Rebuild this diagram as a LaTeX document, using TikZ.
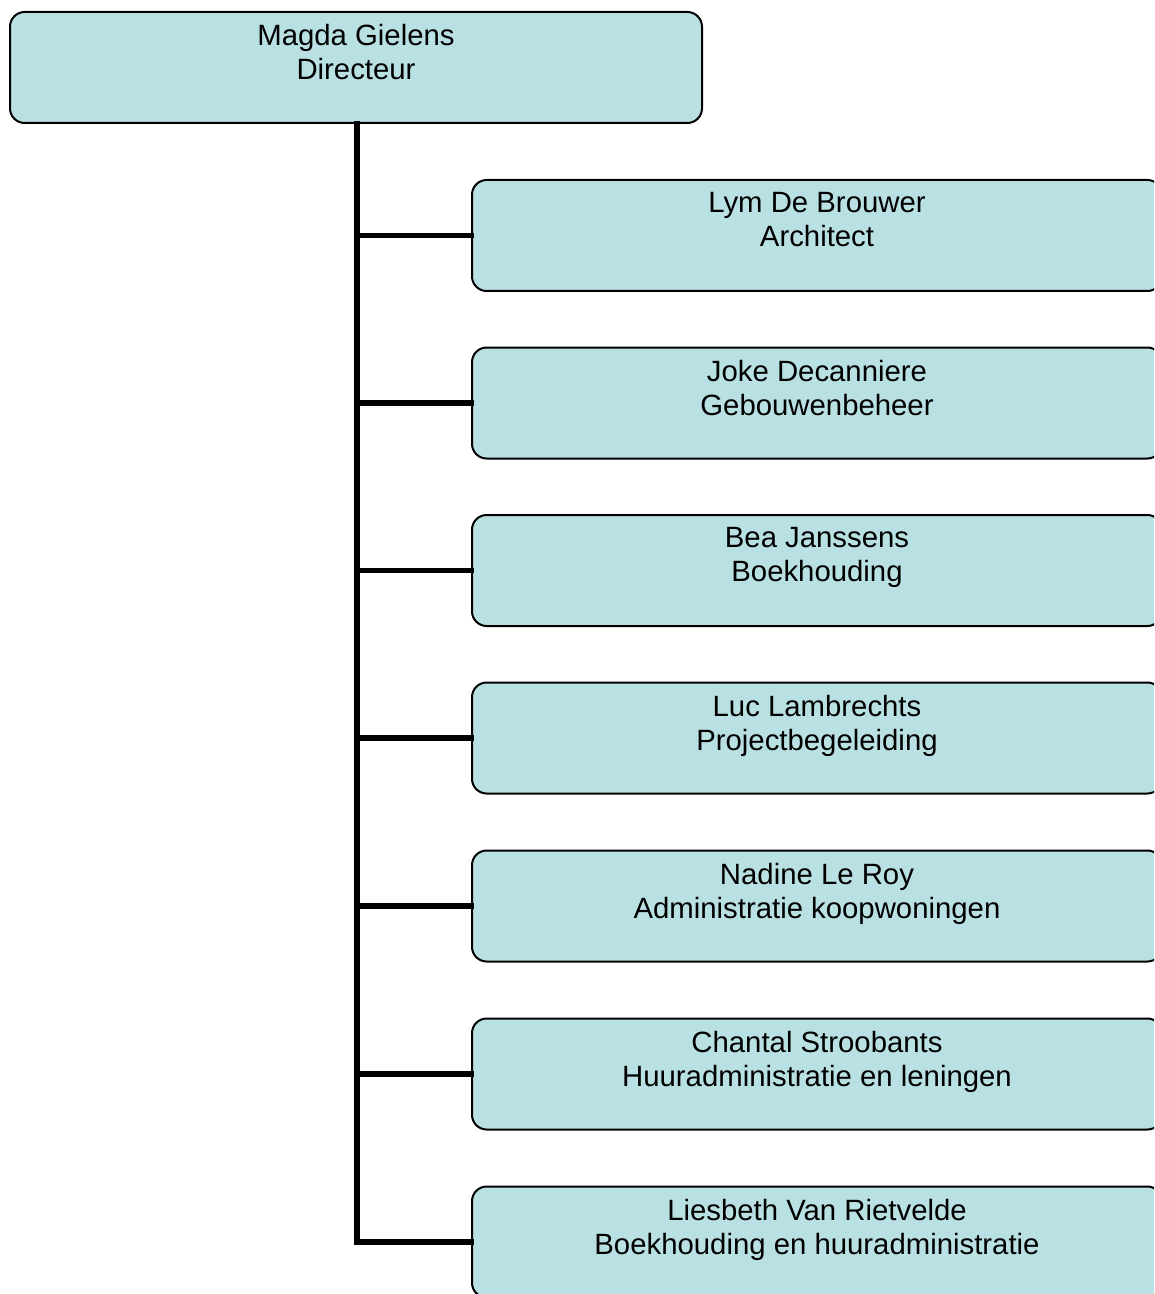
\documentclass[tikz,border=0pt]{standalone}
\usepackage{fontspec}
\setmainfont{Liberation Sans}
\usetikzlibrary{positioning}
\definecolor{boxfill}{RGB}{185,224,227}
\tikzset{
  box/.style={draw=black, line width=1.5pt, fill=boxfill, rounded corners=11pt,
    minimum width=690*0.75pt, minimum height=111*0.75pt, inner sep=0pt},
  boxtext/.style={anchor=north, inner sep=0pt, align=center,
    font=\fontsize{22}{25.6}\selectfont},
  link/.style={line width=3.8pt, line cap=rect}
}
\begin{document}
\begin{tikzpicture}[x=0.75pt, y=-0.75pt]
    \useasboundingbox (0,0) rectangle (1154,1294);
    \clip (0,0) rectangle (1154,1294);

    \node[box, minimum width=692*0.75pt] (magda) at (356,67.5) {};
    \node[boxtext] (magdat) at (356,24) {Magda Gielens\\Directeur};

    \node[box] (lym) at (817,235.5) {};
    \node[boxtext] (lymt) at (817,192) {Lym De Brouwer\\Architect};

    \node[box] (joke) at (817,403) {};
    \node[boxtext] (joket) at (817,359.5) {Joke Decanniere\\Gebouwenbeheer};

    \node[box] (bea) at (817,570.5) {};
    \node[boxtext] (beat) at (817,527) {Bea Janssens\\Boekhouding};

    \node[box] (luc) at (817,738) {};
    \node[boxtext] (luct) at (817,694.5) {Luc Lambrechts\\Projectbegeleiding};

    \node[box] (nadine) at (817,906) {};
    \node[boxtext] (nadinet) at (817,862.5) {Nadine Le Roy\\Administratie koopwoningen};

    \node[box] (chantal) at (817,1074) {};
    \node[boxtext] (chantalt) at (817,1030.5) {Chantal Stroobants\\Huuradministratie en leningen};

    \node[box] (liesbeth) at (817,1242) {};
    \node[boxtext] (liesbetht) at (817,1198.5) {Liesbeth Van Rietvelde\\Boekhouding en huuradministratie};

    % trunk and branches
    \coordinate (trunk) at ([xshift=0.75pt]magda.south);
    \draw[link] (trunk) |- (liesbeth.west);
    \draw[link] (trunk) |- (lym.west);
    \draw[link] (trunk) |- (joke.west);
    \draw[link] (trunk) |- (bea.west);
    \draw[link] (trunk) |- (luc.west);
    \draw[link] (trunk) |- (nadine.west);
    \draw[link] (trunk) |- (chantal.west);
\end{tikzpicture}
\end{document}
